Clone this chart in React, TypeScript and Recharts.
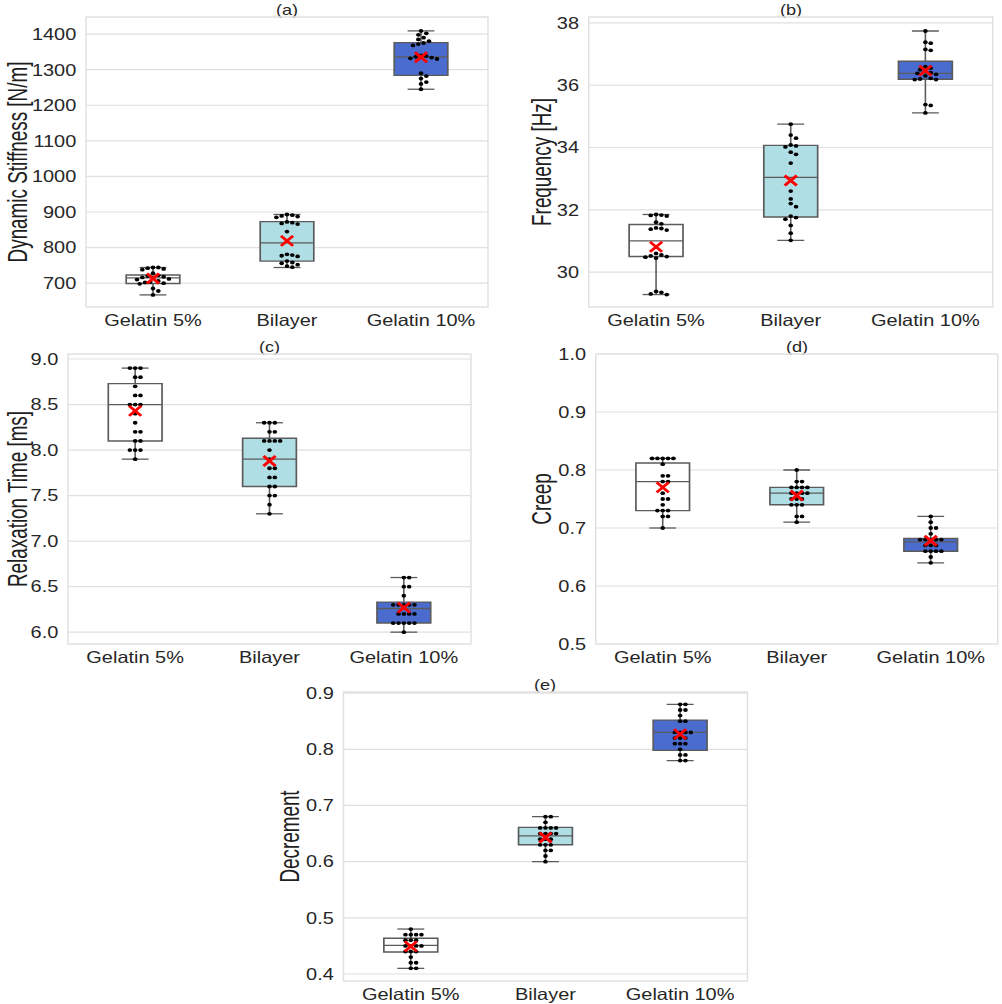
import React from 'react';
import {
  ComposedChart,
  XAxis,
  YAxis,
  CartesianGrid,
  Scatter,
  ReferenceArea,
  ReferenceLine
} from 'recharts';

// the source figure is stretched sideways, so the whole sheet is drawn narrower and scaled in x
const SX = 1.21;
const FONT = '"Liberation Sans", Arial, Helvetica, sans-serif';
const TEXT = '#262626';
const EDGE = '#5b5b5b';
const GRID = '#e2dfe0';

const GROUPS = ['Gelatin 5%', 'Bilayer', 'Gelatin 10%'];
const FILLS = ['#ffffff', '#b0dee5', '#4a6ccf'];

// box stats: [low whisker, q1, median, q3, high whisker]
const stiffnessBoxes = [
  [667, 699, 715, 723, 744],
  [744, 762, 813, 873, 893],
  [1245, 1284, 1336, 1376, 1409]
];
const stiffnessMeans = [713, 819, 1335];
const stiffnessG5 = [744, 744, 742, 740, 738, 728, 722, 720, 718, 716, 715, 712, 710, 706, 703, 702, 700, 698, 685, 678, 667];
const stiffnessBi = [893, 891, 889, 887, 885, 872, 870, 868, 866, 845, 781, 779, 777, 775, 762, 758, 756, 752, 748, 745];
const stiffnessG10 = [1409, 1402, 1398, 1390, 1385, 1380, 1375, 1372, 1368, 1340, 1338, 1336, 1334, 1332, 1330, 1290, 1282, 1275, 1265, 1260, 1245];

const freqBoxes = [
  [29.28, 30.5, 31.0, 31.53, 31.85],
  [31.02, 31.77, 33.04, 34.07, 34.75],
  [35.11, 36.19, 36.38, 36.77, 37.74]
];
const freqMeans = [30.81, 32.94, 36.47];
const freqG5 = [31.85, 31.83, 31.82, 31.8, 31.6, 31.55, 31.42, 31.4, 31.38, 31.35, 30.6, 30.55, 30.52, 30.5, 30.48, 30.45, 29.38, 29.35, 29.3, 29.28];
const freqBi = [34.75, 34.4, 34.3, 34.08, 34.05, 34.02, 33.85, 33.78, 33.5, 32.6, 32.35, 32.2, 32.1, 31.8, 31.75, 31.7, 31.5, 31.25, 31.02];
const freqG10 = [37.74, 37.38, 37.35, 37.15, 37.12, 36.6, 36.55, 36.5, 36.45, 36.4, 36.38, 36.35, 36.3, 36.22, 36.2, 36.18, 36.18, 35.38, 35.35, 35.11];

const relaxBoxes = [
  [7.9, 8.1, 8.5, 8.73, 8.9],
  [7.3, 7.6, 7.9, 8.13, 8.3],
  [6.0, 6.1, 6.26, 6.33, 6.6]
];
const relaxMeans = [8.43, 7.88, 6.27];
const relaxG5 = [8.9, 8.9, 8.9, 8.8, 8.8, 8.7, 8.6, 8.6, 8.5, 8.5, 8.5, 8.4, 8.3, 8.2, 8.2, 8.1, 8.1, 8.0, 8.0, 8.0, 7.9];
const relaxBi = [8.3, 8.3, 8.3, 8.2, 8.2, 8.1, 8.1, 8.1, 8.1, 8.0, 7.9, 7.8, 7.8, 7.7, 7.7, 7.6, 7.6, 7.5, 7.5, 7.4, 7.3];
const relaxG10 = [6.6, 6.6, 6.5, 6.5, 6.4, 6.3, 6.3, 6.3, 6.3, 6.3, 6.2, 6.2, 6.2, 6.2, 6.1, 6.1, 6.1, 6.1, 6.1, 6.0];

const creepBoxes = [
  [0.70, 0.73, 0.78, 0.812, 0.82],
  [0.71, 0.74, 0.76, 0.77, 0.80],
  [0.64, 0.66, 0.676, 0.682, 0.72]
];
const creepMeans = [0.77, 0.756, 0.678];
const creepG5 = [0.82, 0.82, 0.82, 0.82, 0.82, 0.81, 0.79, 0.79, 0.78, 0.78, 0.76, 0.75, 0.75, 0.74, 0.73, 0.73, 0.73, 0.72, 0.72, 0.70];
const creepBi = [0.80, 0.78, 0.78, 0.77, 0.77, 0.77, 0.77, 0.76, 0.76, 0.76, 0.76, 0.75, 0.75, 0.75, 0.74, 0.74, 0.74, 0.72, 0.72, 0.71];
const creepG10 = [0.72, 0.71, 0.70, 0.70, 0.69, 0.68, 0.68, 0.68, 0.68, 0.68, 0.67, 0.67, 0.67, 0.66, 0.66, 0.66, 0.66, 0.65, 0.64];

const decBoxes = [
  [0.41, 0.439, 0.451, 0.4635, 0.48],
  [0.60, 0.63, 0.646, 0.661, 0.68],
  [0.78, 0.798, 0.83, 0.852, 0.88]
];
const decMeans = [0.449, 0.643, 0.827];
const decG5 = [0.48, 0.47, 0.47, 0.47, 0.47, 0.46, 0.46, 0.46, 0.45, 0.45, 0.45, 0.45, 0.44, 0.44, 0.44, 0.43, 0.42, 0.42, 0.41, 0.41];
const decBi = [0.68, 0.68, 0.67, 0.66, 0.66, 0.66, 0.66, 0.65, 0.65, 0.65, 0.65, 0.64, 0.64, 0.64, 0.63, 0.63, 0.63, 0.62, 0.62, 0.61, 0.60];
const decG10 = [0.88, 0.88, 0.87, 0.87, 0.86, 0.85, 0.85, 0.83, 0.83, 0.83, 0.83, 0.82, 0.82, 0.82, 0.81, 0.81, 0.81, 0.80, 0.79, 0.79, 0.78, 0.78];

type Layout = {
  left: number; top: number; height: number;
  plotL: number; plotR: number; plotT: number; plotB: number;
  labelX: number;
};

// simple beeswarm: push each dot sideways until it clears the ones already placed
function beeswarm(vals: number[], pyu: number, d: number): number[] {
  const order = vals.map((_, i) => i).sort((a, b) => vals[b] - vals[a]);
  const placed: [number, number][] = [];
  const out: number[] = vals.map(() => 0);
  for (const i of order) {
    const y = vals[i] * pyu;
    for (let k = 0; k < 200; k++) {
      const off = Math.ceil(k / 2) * (k % 2 ? 1 : -1) * d * 0.5;
      const free = placed.every(([px, py]) => (px - off) ** 2 + (py - y) ** 2 >= d * d * 0.95);
      if (free) {
        placed.push([off, y]);
        out[i] = off;
        break;
      }
    }
  }
  return out;
}

const Dot = (p: any) => <circle cx={p.cx} cy={p.cy} r={1.9} fill="#000" />;

const MeanCross = (p: any) => (
  <g stroke="#ff0000" strokeWidth={2.6}>
    <line x1={p.cx - 5} y1={p.cy - 5} x2={p.cx + 5} y2={p.cy + 5} />
    <line x1={p.cx - 5} y1={p.cy + 5} x2={p.cx + 5} y2={p.cy - 5} />
  </g>
);

interface PanelProps {
  layout: Layout;
  title: string;
  yLabel: string;
  domain: [number, number];
  ticks: number[];
  fmt: (v: number) => string;
  boxes: number[][];
  means: number[];
  points: number[][];
}

const Panel: React.FC<PanelProps> = ({ layout, title, yLabel, domain, ticks, fmt, boxes, means, points }) => {
  const { left, top, height, plotL, plotR, plotT, plotB, labelX } = layout;
  const width = (plotR - left) / SX + 2;
  const yAxisW = (plotL - left) / SX;
  const xAxisH = top + height - plotB;
  const plotW = (plotR - plotL) / SX;
  const plotH = plotB - plotT;
  const pyu = plotH / (domain[1] - domain[0]);
  const pxu = plotW / 3;

  const dots = points.flatMap((vals, g) => {
    const offs = beeswarm(vals, pyu, 4.4);
    return vals.map((v, i) => ({ x: g + offs[i] / pxu, y: v }));
  });
  const meanPts = means.map((m, g) => ({ x: g, y: m }));

  const lx = (labelX - left) / SX;
  const ly = plotT - top + plotH / 2;

  return (
    <div style={{ position: 'absolute', left: left / SX, top, width, height }}>
      <div
        style={{
          position: 'absolute',
          left: ((plotL + plotR) / 2 - left) / SX,
          top: plotT - top - 8,
          transform: 'translate(-50%, -50%)',
          fontFamily: FONT,
          fontSize: 15,
          color: TEXT,
          whiteSpace: 'nowrap'
        }}
      >
        {title}
      </div>
      <ComposedChart width={width} height={height} margin={{ top: plotT - top, right: 2, bottom: 0, left: 0 }}>
        <CartesianGrid vertical={false} stroke={GRID} strokeWidth={1.2} />
        <XAxis
          type="number"
          dataKey="x"
          domain={[-0.5, 2.5]}
          ticks={[0, 1, 2]}
          allowDataOverflow
          tickFormatter={(v) => GROUPS[v]}
          height={xAxisH}
          axisLine={false}
          tickLine={false}
          tickSize={0}
          tickMargin={7}
          tick={{ fill: TEXT, fontSize: 16.5, fontFamily: FONT }}
        />
        <YAxis
          type="number"
          dataKey="y"
          domain={domain}
          ticks={ticks}
          allowDataOverflow
          tickFormatter={fmt}
          width={yAxisW}
          axisLine={false}
          tickLine={false}
          tickSize={0}
          tickMargin={8}
          tick={{ fill: TEXT, fontSize: 16.5, fontFamily: FONT }}
          label={() => (
            <text
              transform={`translate(${lx},${ly}) rotate(-90) scale(0.82,1)`}
              textAnchor="middle"
              dominantBaseline="central"
              fontSize={23}
              fontFamily={FONT}
              fill="#1e1e1e"
            >
              {yLabel}
            </text>
          )}
        />
        <ReferenceArea
          x1={-0.5}
          x2={2.5}
          y1={domain[0]}
          y2={domain[1]}
          fill="none"
          stroke={GRID}
          strokeWidth={1.2}
          ifOverflow="visible"
        />
        {boxes.flatMap((b, g) => [
          <ReferenceLine key={`wl${g}`} segment={[{ x: g, y: b[0] }, { x: g, y: b[1] }]} stroke={EDGE} strokeWidth={1.3} ifOverflow="visible" />,
          <ReferenceLine key={`wh${g}`} segment={[{ x: g, y: b[3] }, { x: g, y: b[4] }]} stroke={EDGE} strokeWidth={1.3} ifOverflow="visible" />,
          <ReferenceLine key={`cl${g}`} segment={[{ x: g - 0.1, y: b[0] }, { x: g + 0.1, y: b[0] }]} stroke={EDGE} strokeWidth={1.3} ifOverflow="visible" />,
          <ReferenceLine key={`ch${g}`} segment={[{ x: g - 0.1, y: b[4] }, { x: g + 0.1, y: b[4] }]} stroke={EDGE} strokeWidth={1.3} ifOverflow="visible" />,
          <ReferenceArea key={`bx${g}`} x1={g - 0.2} x2={g + 0.2} y1={b[1]} y2={b[3]} fill={FILLS[g]} fillOpacity={1} stroke={EDGE} strokeWidth={1.4} ifOverflow="visible" />,
          <ReferenceLine key={`md${g}`} segment={[{ x: g - 0.2, y: b[2] }, { x: g + 0.2, y: b[2] }]} stroke={EDGE} strokeWidth={1.3} ifOverflow="visible" />
        ])}
        <Scatter data={dots} shape={Dot} isAnimationActive={false} />
        <Scatter data={meanPts} shape={MeanCross} isAnimationActive={false} />
      </ComposedChart>
    </div>
  );
};

const int = (v: number) => String(v);
const one = (v: number) => v.toFixed(1);

export default function App() {
  return (
    <div style={{ position: 'absolute', left: 0, top: 0, width: 1002, height: 1004, overflow: 'hidden', background: '#fff' }}>
      <div style={{ position: 'absolute', left: 0, top: 0, width: 1002 / SX, height: 1004, transform: `scaleX(${SX})`, transformOrigin: '0 0' }}>
        <Panel
          layout={{ left: 0, top: 0, height: 330, plotL: 86, plotR: 488, plotT: 17, plotB: 307, labelX: 17 }}
          title="(a)"
          yLabel="Dynamic Stiffness [N/m]"
          domain={[633, 1448]}
          ticks={[700, 800, 900, 1000, 1100, 1200, 1300, 1400]}
          fmt={int}
          boxes={stiffnessBoxes}
          means={stiffnessMeans}
          points={[stiffnessG5, stiffnessBi, stiffnessG10]}
        />
        <Panel
          layout={{ left: 500, top: 0, height: 330, plotL: 589, plotR: 993, plotT: 17, plotB: 307, labelX: 541 }}
          title="(b)"
          yLabel="Frequency [Hz]"
          domain={[28.88, 38.19]}
          ticks={[30, 32, 34, 36, 38]}
          fmt={int}
          boxes={freqBoxes}
          means={freqMeans}
          points={[freqG5, freqBi, freqG10]}
        />
        <Panel
          layout={{ left: 0, top: 330, height: 340, plotL: 68, plotR: 471, plotT: 354, plotB: 644, labelX: 17 }}
          title="(c)"
          yLabel="Relaxation Time [ms]"
          domain={[5.87, 9.055]}
          ticks={[6.0, 6.5, 7.0, 7.5, 8.0, 8.5, 9.0]}
          fmt={one}
          boxes={relaxBoxes}
          means={relaxMeans}
          points={[relaxG5, relaxBi, relaxG10]}
        />
        <Panel
          layout={{ left: 500, top: 330, height: 340, plotL: 596, plotR: 998, plotT: 354, plotB: 644, labelX: 541 }}
          title="(d)"
          yLabel="Creep"
          domain={[0.5, 1.0]}
          ticks={[0.5, 0.6, 0.7, 0.8, 0.9, 1.0]}
          fmt={one}
          boxes={creepBoxes}
          means={creepMeans}
          points={[creepG5, creepBi, creepG10]}
        />
        <Panel
          layout={{ left: 250, top: 670, height: 334, plotL: 343, plotR: 747, plotT: 692, plotB: 981, labelX: 289 }}
          title="(e)"
          yLabel="Decrement"
          domain={[0.3875, 0.902]}
          ticks={[0.4, 0.5, 0.6, 0.7, 0.8, 0.9]}
          fmt={one}
          boxes={decBoxes}
          means={decMeans}
          points={[decG5, decBi, decG10]}
        />
      </div>
    </div>
  );
}
